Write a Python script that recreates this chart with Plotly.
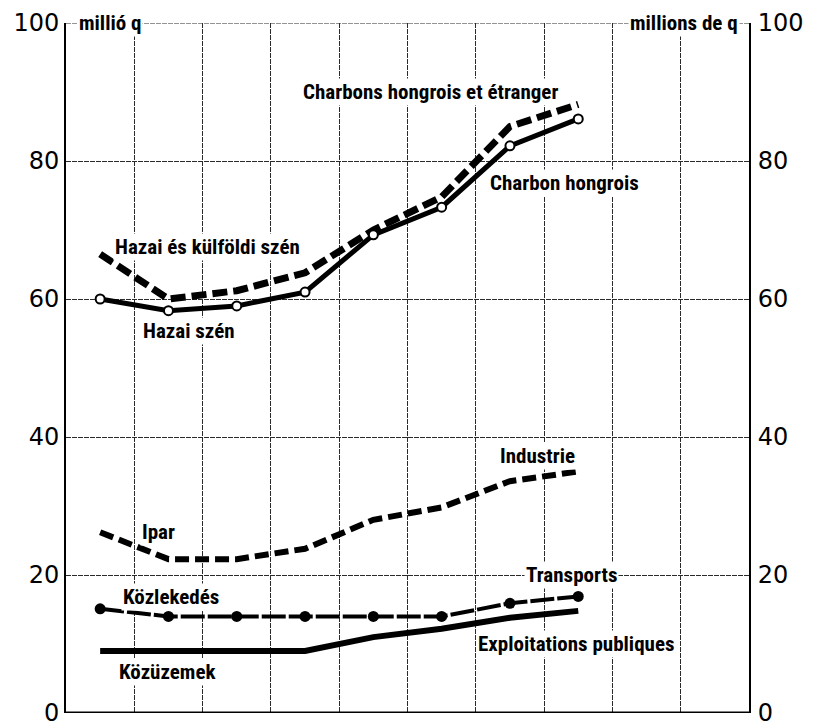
import plotly.graph_objects as go

# Column positions (8 periods plotted within a 10-column grid)
periods = [0, 1, 2, 3, 4, 5, 6, 7]

hazai_es_kulfoldi = [66.5, 60.0, 61.2, 63.8, 70.0, 74.8, 85.0, 88.2]   # Charbons hongrois et étranger
hazai_szen = [60.0, 58.3, 59.0, 61.0, 69.3, 73.3, 82.2, 86.1]          # Charbon hongrois
ipar = [26.2, 22.3, 22.3, 23.8, 28.0, 29.8, 33.6, 35.0]                # Industrie
kozlekedes = [15.1, 14.0, 14.0, 14.0, 14.0, 14.0, 15.9, 16.9]          # Transports
kozuzemek = [9.0, 9.0, 9.0, 9.0, 11.0, 12.2, 13.8, 14.8]               # Exploitations publiques

y_ticks = [0, 20, 40, 60, 80, 100]

LABEL_FONT = dict(family="Liberation Sans Narrow, Roboto Condensed, Arial Narrow, sans-serif",
                  size=21, color="black", weight="bold")
TICK_FONT = dict(family="DejaVu Sans, Noto Sans, sans-serif", size=24, color="black")
GRID = dict(showgrid=True, gridcolor="#2a2a2a", gridwidth=1, griddash="5px,1px")

fig = go.Figure()

fig.add_trace(go.Scatter(
    x=periods, y=hazai_es_kulfoldi, mode="lines",
    line=dict(color="black", width=7, dash="15px,6px"), hoverinfo="skip"))
fig.add_trace(go.Scatter(
    x=periods, y=hazai_szen, mode="lines+markers",
    line=dict(color="black", width=5),
    marker=dict(symbol="circle", size=9, color="white", line=dict(color="black", width=2)),
    hoverinfo="skip"))
fig.add_trace(go.Scatter(
    x=periods, y=ipar, mode="lines",
    line=dict(color="black", width=6, dash="14px,6px"), hoverinfo="skip"))
fig.add_trace(go.Scatter(
    x=periods, y=kozlekedes, mode="lines+markers",
    line=dict(color="black", width=4, dash="24px,3px"),
    marker=dict(symbol="circle", size=11, color="black"), hoverinfo="skip"))
fig.add_trace(go.Scatter(
    x=periods, y=kozuzemek, mode="lines",
    line=dict(color="black", width=6), hoverinfo="skip"))
# invisible trace for the right-hand axis
fig.add_trace(go.Scatter(x=[periods[0]], y=[0], yaxis="y2", mode="markers",
                         marker=dict(opacity=0), hoverinfo="skip"))

# frame: top line, heavy baseline
fig.add_shape(type="line", xref="paper", yref="y", x0=0, x1=1, y0=100, y1=100,
              line=dict(color="#2a2a2a", width=1, dash="5px,1px"), layer="below")
fig.add_shape(type="line", xref="paper", yref="y", x0=0, x1=1, y0=0, y1=0,
              line=dict(color="black", width=3))

labels = [
    ("millió q", 0.15, 100),
    ("millions de q", 8.55, 100),
    ("Charbons hongrois et étranger", 4.84, 90.0),
    ("Charbon hongrois", 6.8, 76.8),
    ("Hazai és külföldi szén", 1.57, 67.5),
    ("Hazai szén", 1.3, 55.3),
    ("Industrie", 6.4, 37.2),
    ("Ipar", 0.85, 26.2),
    ("Közlekedés", 1.04, 16.8),
    ("Transports", 6.9, 20.0),
    ("Exploitations publiques", 6.98, 10.0),
    ("Közüzemek", 0.98, 5.9),
]
for text, x, y in labels:
    fig.add_annotation(x=x, y=y, text=text, showarrow=False, font=LABEL_FONT,
                       bgcolor="white", borderpad=1, xref="x", yref="y")

# the page body adds an 8px offset; margins compensate for it
fig.update_layout(
    width=811, height=718,
    margin=dict(l=58, r=70, t=15, b=13),
    paper_bgcolor="white", plot_bgcolor="white",
    showlegend=False,
    xaxis=dict(range=[-0.5, 9.5], tickvals=[-0.5 + k for k in range(11)],
               showticklabels=False, ticks="", **GRID,
               zeroline=False, showline=False, automargin=False),
    yaxis=dict(range=[0, 100], tickvals=y_ticks, ticks="", tickfont=TICK_FONT,
               **GRID, zeroline=False, automargin=False, ticklabeloverflow="allow",
               showline=True, linecolor="black", linewidth=2, ticklabelstandoff=0),
    yaxis2=dict(range=[0, 100], tickvals=y_ticks, ticks="", tickfont=TICK_FONT,
                overlaying="y", side="right", showgrid=False, zeroline=False,
                automargin=False, ticklabelstandoff=2, ticklabeloverflow="allow",
                showline=True, linecolor="black", linewidth=2),
)

fig.write_html("out.html")
